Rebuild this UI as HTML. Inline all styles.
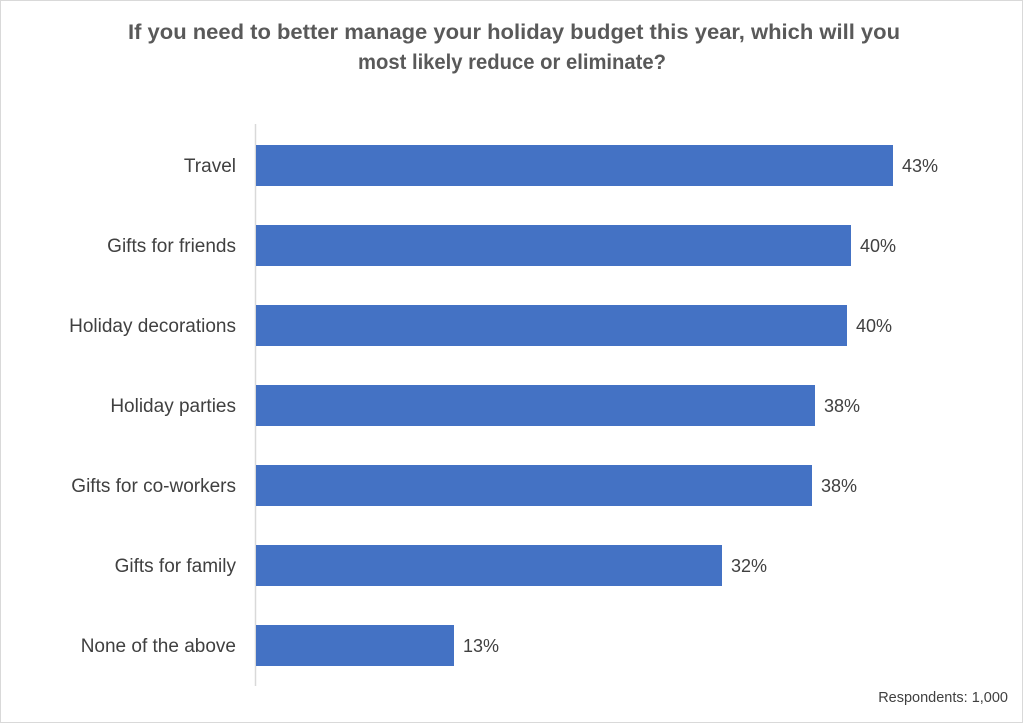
<!DOCTYPE html>
<html><head><style>
body{margin:0;background:#fff;}
svg{display:block;}
text{font-family:"Liberation Sans",sans-serif;}
</style></head><body>
<svg width="1024" height="724" xmlns="http://www.w3.org/2000/svg">
<rect x="0.5" y="0.5" width="1022" height="722" fill="#fff" stroke="#d9d9d9"/>
<text x="128" y="39" textLength="772" lengthAdjust="spacingAndGlyphs" font-size="21" font-weight="bold" fill="#595959">If you need to better manage your holiday budget this year, which will you</text>
<text x="358" y="69" textLength="308" lengthAdjust="spacingAndGlyphs" font-size="21" font-weight="bold" fill="#595959">most likely reduce or eliminate?</text>
<line x1="255.5" y1="124" x2="255.5" y2="686" stroke="#d9d9d9" stroke-width="1.5"/>
<g fill="#4472c4">
<rect x="256" y="145" width="637" height="41"/>
<rect x="256" y="225" width="595" height="41"/>
<rect x="256" y="305" width="591" height="41"/>
<rect x="256" y="385" width="559" height="41"/>
<rect x="256" y="465" width="556" height="41"/>
<rect x="256" y="545" width="466" height="41"/>
<rect x="256" y="625" width="198" height="41"/>
</g>
<g font-size="19" fill="#404040" text-anchor="end">
<text x="236" y="172">Travel</text>
<text x="236" y="252">Gifts for friends</text>
<text x="236" y="332">Holiday decorations</text>
<text x="236" y="412">Holiday parties</text>
<text x="236" y="492">Gifts for co-workers</text>
<text x="236" y="572">Gifts for family</text>
<text x="236" y="652">None of the above</text>
</g>
<g font-size="18" fill="#404040">
<text x="902" y="172">43%</text>
<text x="860" y="252">40%</text>
<text x="856" y="332">40%</text>
<text x="824" y="412">38%</text>
<text x="821" y="492">38%</text>
<text x="731" y="572">32%</text>
<text x="463" y="652">13%</text>
</g>
<text x="1008" y="702" text-anchor="end" font-size="14.5" fill="#404040">Respondents: 1,000</text>
</svg>
</body></html>
